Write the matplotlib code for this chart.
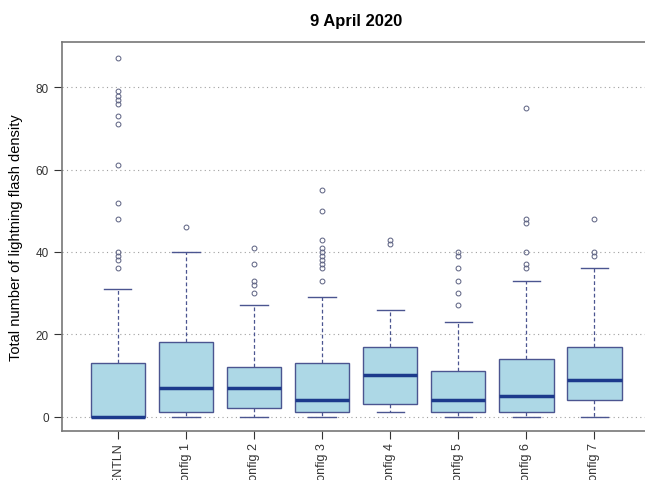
import matplotlib
matplotlib.use("Agg")
import matplotlib.pyplot as plt

# data
labels = ["ENTLN", "config 1", "config 2", "config 3", "config 4", "config 5", "config 6", "config 7"]
whisker_lo = [0, 0, 0, 0, 1, 0, 0, 0]
q1 = [0, 1, 2, 1, 3, 1, 1, 4]
median = [0, 7, 7, 4, 10, 4, 5, 9]
q3 = [13, 18, 12, 13, 17, 11, 14, 17]
whisker_hi = [31, 40, 27, 29, 26, 23, 33, 36]
outliers = [
    [36, 38, 39, 40, 48, 52, 61, 71, 73, 76, 77, 78, 79, 87],
    [46],
    [30, 32, 33, 37, 41],
    [33, 36, 37, 38, 39, 40, 41, 43, 50, 55],
    [42, 43],
    [27, 30, 33, 36, 39, 40],
    [36, 37, 40, 47, 48, 75],
    [39, 40, 48],
]
yticks = [0, 20, 40, 60, 80]

plt.rcParams['font.family'] = ['Liberation Sans', 'DejaVu Sans']

fig = plt.figure(figsize=(6.45, 4.81), dpi=100)
ax = fig.add_axes([0.0961, 0.1019, 0.912, 0.8087])

stats = []
for i in range(len(labels)):
    stats.append({
        "whislo": whisker_lo[i], "q1": q1[i], "med": median[i],
        "q3": q3[i], "whishi": whisker_hi[i], "fliers": outliers[i],
    })

positions = list(range(1, len(labels) + 1))
edge = "#4b5590"
ax.bxp(stats, positions=positions, widths=0.8, patch_artist=True,
       boxprops=dict(facecolor="#add8e6", edgecolor=edge, linewidth=1.0),
       medianprops=dict(color="#1c3a8c", linewidth=2.5),
       whiskerprops=dict(color=edge, linestyle=(0, (3, 2)), linewidth=0.9),
       capprops=dict(color=edge, linewidth=1.0),
       capwidths=0.4,
       flierprops=dict(marker="o", markerfacecolor="none", markeredgecolor="#5a5f80",
                       markersize=3.5, markeredgewidth=0.7),
       zorder=3)

for y in yticks:
    ax.axhline(y, color="#a0a0a0", linestyle=(0, (1, 3)), linewidth=0.8, zorder=1)

ax.set_xlim(0.18, 8.82)
ax.set_ylim(-3.5, 91)
ax.set_yticks(yticks)
ax.set_xticks(positions)
ax.set_xticklabels(labels, rotation=90, fontsize=9, color="#333333")
ax.tick_params(axis="y", labelsize=8.5, colors="#333333", length=6)
ax.tick_params(axis="x", length=6, pad=2, colors="#333333")
for s in ["top", "left", "bottom", "right"]:
    ax.spines[s].set_color("#777777")
    ax.spines[s].set_linewidth(1.2)

ax.set_ylabel("Total number of lightning flash density", fontsize=10.5, labelpad=9)
ax.set_title("9 April 2020", fontsize=12, fontweight="bold", pad=12)

fig.savefig("out.png", dpi=100)
